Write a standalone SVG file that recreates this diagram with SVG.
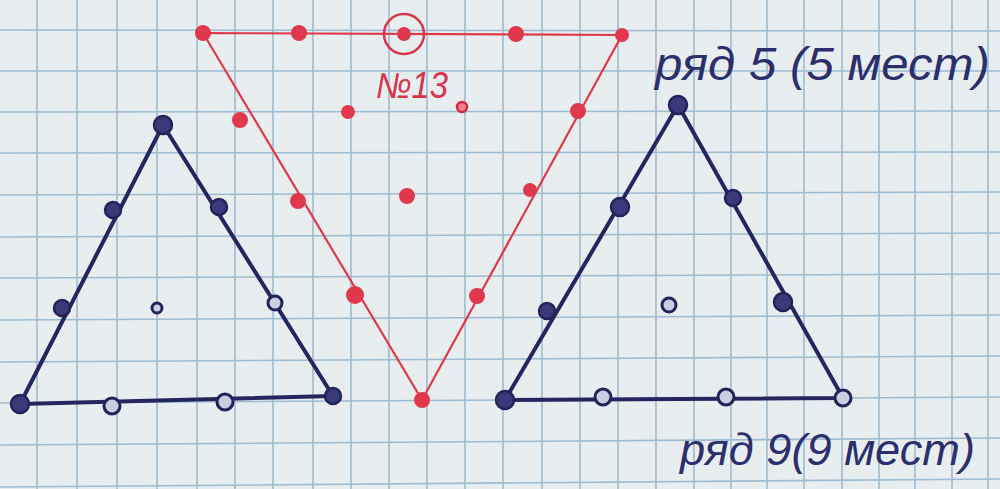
<svg xmlns="http://www.w3.org/2000/svg" width="1000" height="489" viewBox="0 0 1000 489">
<defs>
<style>
.grid line{stroke:#9dbbd0;stroke-width:1.6}
.red{stroke:#e03848;fill:none;stroke-width:2.2;stroke-linejoin:round}
.blue{stroke:#25255f;fill:none;stroke-width:4;stroke-linejoin:round}
.rd{fill:#e0384c;stroke:#e0384c;stroke-width:2}
.rdr{fill:#f08090;stroke:#d8283e;stroke-width:2.5}
.bd{fill:#3a3a7a;stroke:#23235c;stroke-width:2.5}
.bdo{fill:#c8d0e0;stroke:#23235c;stroke-width:3}
.lbl{font-family:"Liberation Sans","DejaVu Sans",sans-serif;font-style:italic;fill:#2b2f6c}
.rl{font-family:"Liberation Sans","DejaVu Sans",sans-serif;font-style:italic;fill:#d8344a}
</style>
</defs>
<rect width="1000" height="489" fill="#e8eef0"/>
<g class="grid">
<line x1="-2" y1="0" x2="-2" y2="489"/><line x1="37" y1="0" x2="37" y2="489"/><line x1="77" y1="0" x2="77" y2="489"/><line x1="117" y1="0" x2="117" y2="489"/><line x1="157" y1="0" x2="157" y2="489"/><line x1="197" y1="0" x2="197" y2="489"/><line x1="235" y1="0" x2="235" y2="489"/><line x1="273" y1="0" x2="273" y2="489"/><line x1="313" y1="0" x2="313" y2="489"/><line x1="351" y1="0" x2="351" y2="489"/><line x1="389" y1="0" x2="389" y2="489"/><line x1="427" y1="0" x2="427" y2="489"/><line x1="465" y1="0" x2="465" y2="489"/><line x1="503" y1="0" x2="503" y2="489"/><line x1="542" y1="0" x2="542" y2="489"/><line x1="580" y1="0" x2="580" y2="489"/><line x1="618" y1="0" x2="618" y2="489"/><line x1="656" y1="0" x2="656" y2="489"/><line x1="694" y1="0" x2="694" y2="489"/><line x1="731" y1="0" x2="731" y2="489"/><line x1="767" y1="0" x2="767" y2="489"/><line x1="804" y1="0" x2="804" y2="489"/><line x1="842" y1="0" x2="842" y2="489"/><line x1="879" y1="0" x2="879" y2="489"/><line x1="915" y1="0" x2="915" y2="489"/><line x1="952" y1="0" x2="952" y2="489"/><line x1="988" y1="0" x2="988" y2="489"/>
<line x1="0" y1="30" x2="1000" y2="31"/><line x1="0" y1="71" x2="1000" y2="71"/><line x1="0" y1="112" x2="1000" y2="111"/><line x1="0" y1="153" x2="1000" y2="152"/><line x1="0" y1="195" x2="1000" y2="192"/><line x1="0" y1="237" x2="1000" y2="233"/><line x1="0" y1="278" x2="1000" y2="274"/><line x1="0" y1="320" x2="1000" y2="315"/><line x1="0" y1="362" x2="1000" y2="356"/><line x1="0" y1="403" x2="1000" y2="397"/><line x1="0" y1="445" x2="1000" y2="438"/><line x1="0" y1="487" x2="1000" y2="479"/>
</g>
<g id="connectors">
<polygon class="red" points="203,33 622,35 422,400"/>
<polygon class="blue" points="163,125 20,404 333,396"/>
<polygon class="blue" points="678,105 505,400 843,398"/>
</g>
<g id="red-triangle">
<circle class="rd" cx="203" cy="33" r="7"/><circle class="rd" cx="299" cy="33" r="7"/><circle class="rd" cx="404" cy="34" r="6"/><circle cx="404" cy="34" r="20" fill="none" stroke="#d8344a" stroke-width="2.5"/><circle class="rd" cx="516" cy="34" r="7"/><circle class="rd" cx="622" cy="35" r="6"/>
<circle class="rd" cx="240" cy="120" r="7"/><circle class="rd" cx="298" cy="201" r="7"/><circle class="rd" cx="355" cy="295" r="8"/><circle class="rd" cx="422" cy="400" r="7"/>
<circle class="rd" cx="578" cy="111" r="7"/><circle class="rd" cx="530" cy="190" r="6"/><circle class="rd" cx="477" cy="296" r="7"/>
<circle class="rd" cx="348" cy="112" r="6"/><circle class="rdr" cx="462" cy="107" r="5"/><circle class="rd" cx="407" cy="196" r="7"/>
</g>
<g id="left-triangle">
<circle class="bd" cx="163" cy="125" r="9"/><circle class="bd" cx="113" cy="210" r="8"/><circle class="bd" cx="62" cy="308" r="8"/><circle class="bd" cx="20" cy="404" r="9"/>
<circle class="bd" cx="219" cy="207" r="8"/><circle class="bdo" cx="275" cy="303" r="7"/><circle class="bd" cx="333" cy="396" r="8"/>
<circle class="bdo" cx="112" cy="406" r="8"/><circle class="bdo" cx="225" cy="402" r="8"/><circle class="bdo" cx="157" cy="308" r="5"/>
</g>
<g id="right-triangle">
<circle class="bd" cx="678" cy="105" r="9"/><circle class="bd" cx="620" cy="207" r="9"/><circle class="bd" cx="547" cy="311" r="8"/><circle class="bd" cx="505" cy="400" r="9"/>
<circle class="bd" cx="733" cy="198" r="8"/><circle class="bd" cx="783" cy="302" r="9"/><circle class="bdo" cx="843" cy="398" r="8"/>
<circle class="bdo" cx="603" cy="397" r="8"/><circle class="bdo" cx="726" cy="397" r="8"/><circle class="bdo" cx="669" cy="305" r="7"/>
</g>
<g id="label-n13"><text class="rl" x="376" y="98" font-size="36" textLength="72" lengthAdjust="spacingAndGlyphs">№13</text></g>
<g id="label-row5"><text class="lbl" x="655" y="80" font-size="46" textLength="335" lengthAdjust="spacingAndGlyphs">ряд 5 (5 мест)</text></g>
<g id="label-row9"><text class="lbl" x="680" y="465" font-size="44" textLength="295" lengthAdjust="spacingAndGlyphs">ряд 9(9 мест)</text></g>
</svg>
